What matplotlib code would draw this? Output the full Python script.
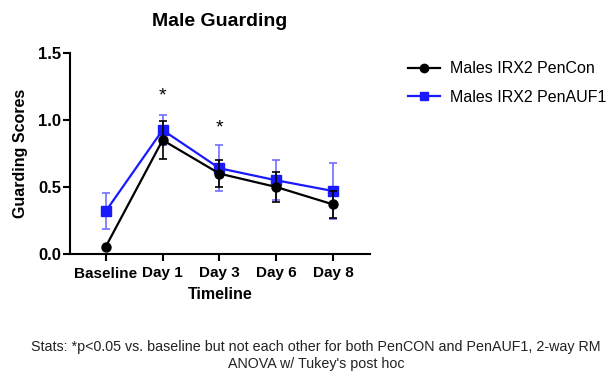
import matplotlib
matplotlib.use("Agg")
import matplotlib.pyplot as plt
from matplotlib.lines import Line2D
import numpy as np

plt.rcParams['font.family'] = ['Liberation Sans', 'DejaVu Sans']

categories = ["Baseline", "Day 1", "Day 3", "Day 6", "Day 8"]
pencon_mean = [0.055, 0.85, 0.60, 0.50, 0.37]
pencon_err = [0.0, 0.14, 0.10, 0.115, 0.10]
penauf_mean = [0.32, 0.925, 0.64, 0.55, 0.47]
penauf_err = [0.135, 0.11, 0.17, 0.15, 0.21]
sig_idx = [1, 2]
sig_y = [1.18, 0.94]

fig = plt.figure(figsize=(6.07, 3.74), dpi=100)
ax = fig.add_axes([70/607, 1-254/374, 300/607, 201/374])
x = np.arange(len(categories))

ax.errorbar(x, pencon_mean, yerr=pencon_err, color='black', marker='o', ms=6.5,
            lw=1.6, capsize=3, elinewidth=1.2, capthick=1.2, zorder=3)
ax.errorbar(x, penauf_mean, yerr=penauf_err, color='#1a1aff', marker='s', ms=6.5,
            lw=1.6, capsize=3, elinewidth=1.2, capthick=1.2,
            ecolor='#6f6fff', zorder=2)

for i, yy in zip(sig_idx, sig_y):
    ax.text(x[i], yy, '*', ha='center', va='center', fontsize=14)

ax.set_xlim(-0.63, 4.65)
ax.set_ylim(0, 1.5)
ax.set_yticks([0.0, 0.5, 1.0, 1.5])
ax.set_yticklabels(['0.0', '0.5', '1.0', '1.5'])
ax.set_xticks(x)
ax.set_xticklabels(categories)
for lab in ax.get_xticklabels():
    lab.set_fontweight('bold')
    lab.set_fontsize(11)
for lab in ax.get_yticklabels():
    lab.set_fontweight('bold')
    lab.set_fontsize(12)
ax.spines['top'].set_visible(False)
ax.spines['right'].set_visible(False)
ax.spines['left'].set_linewidth(1.5)
ax.spines['bottom'].set_linewidth(1.5)
ax.tick_params(axis='x', direction='out', length=5, width=1.5, pad=4)
ax.tick_params(axis='y', direction='out', length=5, width=1.5, pad=1.5)
ax.set_xlabel('Timeline', fontweight='bold', fontsize=11.5, labelpad=5)
ax.set_ylabel('Guarding Scores', fontweight='bold', fontsize=11.5, labelpad=7)
fig.text(220/607, 1-21/374, 'Male Guarding', fontweight='bold', fontsize=14,
         ha='center', va='center')

handles = [Line2D([], [], color='black', marker='o', ms=6, lw=1.6),
           Line2D([], [], color='#1a1aff', marker='s', ms=6, lw=1.6)]
labels = ['Males IRX2 PenCon', 'Males IRX2 PenAUF1']
fig.legend(handles, labels, loc='upper left', bbox_to_anchor=(402/607, 1-55/374),
           frameon=False, fontsize=11.5, handlelength=2.0, handletextpad=0.6,
           labelspacing=0.85, borderaxespad=0)

fig.text(316/607, 1-347/374, "Stats: *p<0.05 vs. baseline but not each other for both PenCON and PenAUF1, 2-way RM",
         ha='center', va='center', fontsize=10.3, color='#222222')
fig.text(316/607, 1-364/374, "ANOVA w/ Tukey's post hoc", ha='center', va='center',
         fontsize=10.3, color='#222222')

fig.savefig('out.png', dpi=100)
